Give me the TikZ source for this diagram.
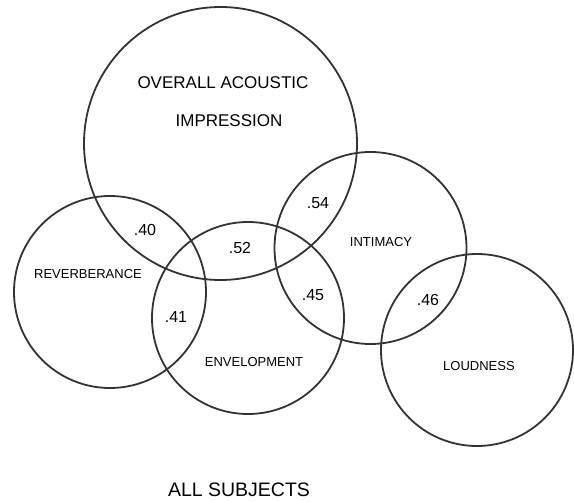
\documentclass[tikz,border=0pt]{standalone}
\usepackage{fontspec}
\setmainfont{Liberation Sans}

\begin{document}
\begin{tikzpicture}[x=1pt,y=-1pt,
  set/.style={draw=black!80,circle,line width=1.8pt,inner sep=0pt,minimum size=192pt},
  setname/.style={inner sep=0pt,text depth=0pt,font=\fontsize{13}{13}\selectfont},
  corr/.style={inner sep=0pt,text depth=0pt,font=\fontsize{16}{16}\selectfont}]
\useasboundingbox (0,0) rectangle (574,502);
% the five sets
\node [set,minimum size=273pt] (overall) at (220.5,143.5) {};
\node [set] (intimacy) at (370.5,248) {};
\node [set] (loudness) at (477,350) {};
\node [set] (envelopment) at (248,318) {};
\node [set] (reverberance) at (110,292) {};
% names of the sets
\node [inner sep=0pt,text depth=0pt,font=\fontsize{17}{17}\selectfont] (overall text) at (223,83) {OVERALL ACOUSTIC};
\node [inner sep=0pt,text depth=0pt,font=\fontsize{17}{17}\selectfont] (impression text) at (229,121) {IMPRESSION};
\node [setname] (intimacy text) at (381,242) {INTIMACY};
\node [setname] (loudness text) at (479,366) {LOUDNESS};
\node [setname] (envelopment text) at (254,362) {ENVELOPMENT};
\node [setname] (reverberance text) at (88,274) {REVERBERANCE};
% correlations in the overlaps
\node [corr] (r40) at (145,230) {.40};
\node [corr] (r52) at (240,248) {.52};
\node [corr] (r41) at (176,317) {.41};
\node [corr] (r54) at (318,203) {.54};
\node [corr] (r45) at (313,295) {.45};
\node [corr] (r46) at (428,300) {.46};
\node [inner sep=0pt,text depth=0pt,font=\fontsize{19.5}{19.5}\selectfont] (subjects) at (239,490) {ALL SUBJECTS};
\end{tikzpicture}
\end{document}
